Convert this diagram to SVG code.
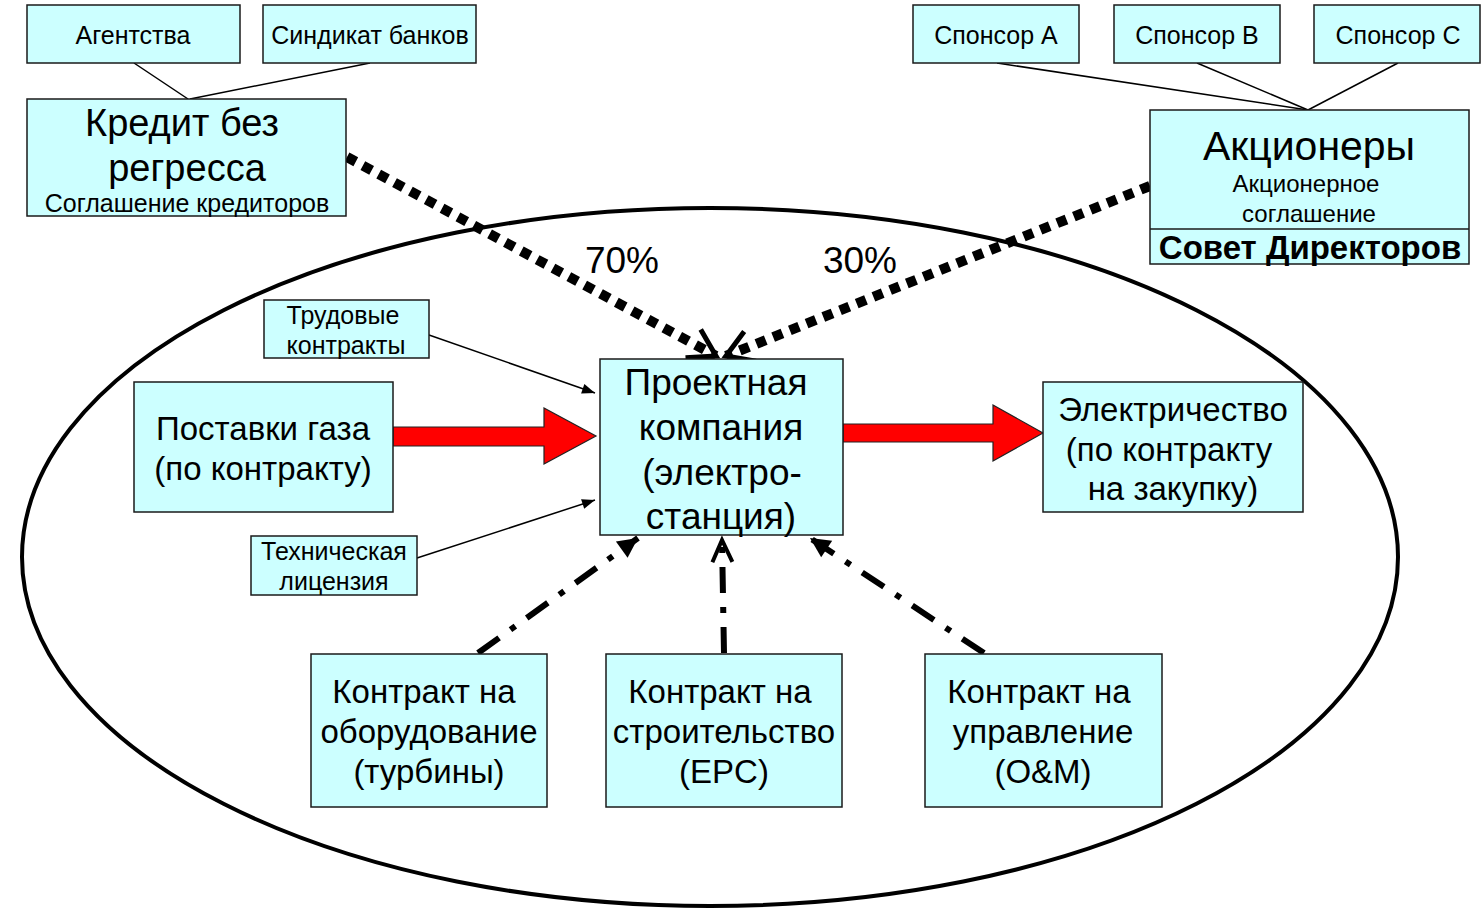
<svg xmlns="http://www.w3.org/2000/svg" width="1484" height="910" viewBox="0 0 1484 910">
<style>
.box{fill:#CCFFFF;stroke:#1a1a1a;stroke-width:1.5}
.t{font-family:"Liberation Sans",Arial,sans-serif;fill:#000;text-anchor:middle}
.thin{stroke:#000;stroke-width:1.5;fill:none}
.dot{stroke:#000;stroke-width:10;stroke-dasharray:10 8;fill:none}
.dd{stroke:#000;stroke-width:6;stroke-dasharray:26 14 6 14;fill:none}
.red{fill:#FF0000;stroke:#222;stroke-width:1.2}
</style>
<defs>
<marker id="vopen" markerUnits="userSpaceOnUse" viewBox="-40 -25 45 50" refX="0" refY="0" markerWidth="45" markerHeight="50" orient="auto">
<path d="M-26,-16 L0,0 L-26,16" fill="none" stroke="#000" stroke-width="5"/>
</marker>
<marker id="vopen2" markerUnits="userSpaceOnUse" viewBox="-30 -20 35 40" refX="0" refY="0" markerWidth="35" markerHeight="40" orient="auto">
<path d="M-22,-10 L0,0 L-22,10" fill="none" stroke="#000" stroke-width="4"/>
</marker>
<marker id="tri" markerUnits="userSpaceOnUse" viewBox="-25 -12 27 24" refX="0" refY="0" markerWidth="27" markerHeight="24" orient="auto">
<path d="M-20,-10 L0,0 L-20,10 Z" fill="#000"/>
</marker>
<marker id="small" markerUnits="userSpaceOnUse" viewBox="-14 -7 15 14" refX="0" refY="0" markerWidth="15" markerHeight="14" orient="auto">
<path d="M-13,-5 L0,0 L-13,5 Z" fill="#000"/>
</marker>
</defs>
<rect width="1484" height="910" fill="#fff"/>
<ellipse cx="710" cy="557" rx="688" ry="349" fill="none" stroke="#000" stroke-width="4"/>

<g id="connectors">
<line class="thin" x1="134" y1="63" x2="188" y2="99"/>
<line class="thin" x1="370" y1="63" x2="190" y2="99"/>
<line class="thin" x1="997" y1="63" x2="1308" y2="110"/>
<line class="thin" x1="1197" y1="63" x2="1308" y2="110"/>
<line class="thin" x1="1398" y1="63" x2="1308" y2="110"/>
<line class="dot" x1="347" y1="157" x2="716" y2="356" marker-end="url(#vopen)"/>
<line class="dot" x1="1150" y1="186" x2="726" y2="356" marker-end="url(#vopen)"/>
<line class="thin" x1="429" y1="335" x2="595" y2="393" marker-end="url(#small)"/>
<line class="thin" x1="417" y1="558" x2="595" y2="500" marker-end="url(#small)"/>
<path class="red" d="M393,427 L544,427 L544,408 L596,436 L544,464 L544,446 L393,446 Z"/>
<path class="red" d="M843,424 L993,424 L993,405 L1043,433 L993,461 L993,442 L843,442 Z"/>
<line class="dd" x1="478" y1="653" x2="638" y2="538" marker-end="url(#tri)"/>
<line class="dd" x1="724" y1="653" x2="722" y2="540" marker-end="url(#vopen2)"/>
<line class="dd" x1="984" y1="653" x2="810" y2="538" marker-end="url(#tri)"/>
</g>

<g id="agentstva"><rect class="box" x="27" y="5" width="213" height="58"/><text class="t" x="133" y="44" font-size="25">Агентства</text></g>
<g id="sindikat"><rect class="box" x="263" y="5" width="213" height="58"/><text class="t" x="370" y="44" font-size="25">Синдикат банков</text></g>
<g id="kredit"><rect class="box" x="27" y="99" width="319" height="117"/>
<text class="t" x="182" y="136" font-size="38">Кредит без</text>
<text class="t" x="187" y="181" font-size="38">регресса</text>
<text class="t" x="187" y="212" font-size="25">Соглашение кредиторов</text></g>

<g id="sponsorA"><rect class="box" x="913" y="5" width="166" height="58"/><text class="t" x="996" y="44" font-size="25">Спонсор А</text></g>
<g id="sponsorB"><rect class="box" x="1114" y="5" width="166" height="58"/><text class="t" x="1197" y="44" font-size="25">Спонсор В</text></g>
<g id="sponsorC"><rect class="box" x="1314" y="5" width="166" height="58"/><text class="t" x="1398" y="44" font-size="25">Спонсор С</text></g>

<g id="akcionery"><rect class="box" x="1150" y="110" width="319" height="154"/>
<line x1="1150" y1="229" x2="1469" y2="229" stroke="#1a1a1a" stroke-width="1.5"/>
<text class="t" x="1309" y="160" font-size="41">Акционеры</text>
<text class="t" x="1306" y="192" font-size="24">Акционерное</text>
<text class="t" x="1309" y="222" font-size="24">соглашение</text>
<text class="t" x="1310" y="259" font-size="33" font-weight="bold">Совет Директоров</text></g>

<text class="t" x="622" y="273" font-size="37">70%</text>
<text class="t" x="860" y="273" font-size="37">30%</text>

<g id="trud"><rect class="box" x="264" y="300" width="165" height="58"/>
<text class="t" x="343" y="324" font-size="25">Трудовые</text>
<text class="t" x="346" y="354" font-size="25">контракты</text></g>

<g id="tech"><rect class="box" x="251" y="536" width="166" height="59"/>
<text class="t" x="334" y="560" font-size="25">Техническая</text>
<text class="t" x="334" y="590" font-size="25">лицензия</text></g>

<g id="gas"><rect class="box" x="134" y="382" width="259" height="130"/>
<text class="t" x="263" y="440" font-size="33">Поставки газа</text>
<text class="t" x="263" y="480" font-size="33">(по контракту)</text></g>

<g id="project"><rect class="box" x="600" y="359" width="243" height="176"/>
<text class="t" x="716" y="395" font-size="37">Проектная</text>
<text class="t" x="721" y="440" font-size="37">компания</text>
<text class="t" x="722" y="485" font-size="37">(электро-</text>
<text class="t" x="721" y="529" font-size="37">станция)</text></g>

<g id="electro"><rect class="box" x="1043" y="382" width="260" height="130"/>
<text class="t" x="1173" y="421" font-size="33">Электричество</text>
<text class="t" x="1169" y="461" font-size="33">(по контракту</text>
<text class="t" x="1173" y="500" font-size="33">на закупку)</text></g>

<g id="equip"><rect class="box" x="311" y="654" width="236" height="153"/>
<text class="t" x="424" y="703" font-size="33">Контракт на</text>
<text class="t" x="429" y="743" font-size="33">оборудование</text>
<text class="t" x="429" y="783" font-size="33">(турбины)</text></g>

<g id="epc"><rect class="box" x="606" y="654" width="236" height="153"/>
<text class="t" x="720" y="703" font-size="33">Контракт на</text>
<text class="t" x="724" y="743" font-size="33">строительство</text>
<text class="t" x="724" y="783" font-size="33">(EPC)</text></g>

<g id="om"><rect class="box" x="925" y="654" width="237" height="153"/>
<text class="t" x="1039" y="703" font-size="33">Контракт на</text>
<text class="t" x="1043" y="743" font-size="33">управление</text>
<text class="t" x="1043" y="783" font-size="33">(O&amp;M)</text></g>
</svg>
